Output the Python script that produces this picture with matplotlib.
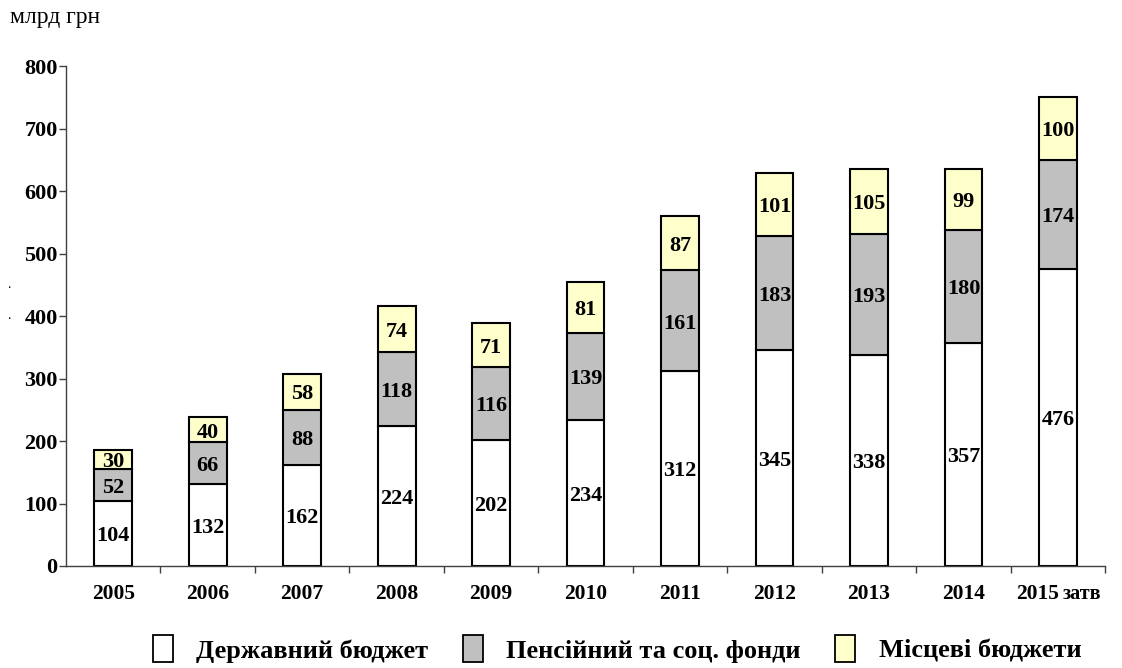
import matplotlib
matplotlib.use("Agg")
import matplotlib.pyplot as plt
from matplotlib.patches import Patch
from matplotlib.transforms import blended_transform_factory
import numpy as np

years = ["2005", "2006", "2007", "2008", "2009", "2010", "2011", "2012", "2013", "2014", "2015"]
state_budget = [104, 132, 162, 224, 202, 234, 312, 345, 338, 357, 476]
pension_social = [52, 66, 88, 118, 116, 139, 161, 183, 193, 180, 174]
local_budgets = [30, 40, 58, 74, 71, 81, 87, 101, 105, 99, 100]
series_names = ["Державний бюджет", "Пенсійний та соц. фонди", "Місцеві бюджети"]
series_colors = ["#FFFFFF", "#C0C0C0", "#FFFFCC"]

plt.rcParams["font.family"] = ["Liberation Serif", "DejaVu Serif"]

fig = plt.figure(figsize=(11.22, 6.68), dpi=100)
ax = fig.add_axes([0.0588, 0.1527, 0.9262, 0.7483])

x = np.arange(len(years))
width = 0.4
bottom = np.zeros(len(years))
for vals, color in zip([state_budget, pension_social, local_budgets], series_colors):
    ax.bar(x, vals, width, bottom=bottom, color=color, edgecolor="black", linewidth=1.5, zorder=2)
    for xi, b, v in zip(x, bottom, vals):
        ax.annotate(str(v), xy=(xi, b + v / 2), xytext=(0, -2), textcoords="offset points",
                    ha="center", va="center", fontsize=16, fontweight="bold", zorder=3)
    bottom = bottom + np.array(vals)

ax.set_xlim(-0.5, len(years) - 0.5)
ax.set_ylim(0, 800)
ax.set_yticks(np.arange(0, 801, 100))
ax.tick_params(axis="y", direction="out", length=5, width=1, color="#404040",
               labelsize=16, pad=1)
for lbl in ax.get_yticklabels():
    lbl.set_fontweight("bold")

# category labels under the bars, boundaries marked with ticks
ax.set_xticks(x)
ax.set_xticklabels(years[:-1] + [""], fontsize=15.5, fontweight="bold")
ax.tick_params(axis="x", which="major", length=0, pad=13)
ax.set_xticks(np.arange(-0.5, len(years) - 0.4, 1.0)[1:], minor=True)
ax.tick_params(axis="x", which="minor", direction="out", length=5, width=1, color="#404040")

# last category: year plus a smaller "затв" on a shared baseline
trans = blended_transform_factory(ax.transData, ax.transAxes)
ax.annotate(years[-1], xy=(x[-1], 0), xycoords=trans, xytext=(1, -23.5),
            textcoords="offset points", ha="right", va="baseline",
            fontsize=15.5, fontweight="bold", annotation_clip=False)
ax.annotate("затв", xy=(x[-1], 0), xycoords=trans, xytext=(3.5, -23.5),
            textcoords="offset points", ha="left", va="baseline",
            fontsize=14.5, fontweight="bold", annotation_clip=False)

for side in ["top", "right"]:
    ax.spines[side].set_visible(False)
for side in ["left", "bottom"]:
    ax.spines[side].set_color("#404040")
    ax.spines[side].set_linewidth(1)

fig.text(10 / 1122, 1 - 18 / 668, "млрд грн", fontsize=17, ha="left", va="center")
fig.text(7 / 1122, 1 - 284 / 668, ".", fontsize=10, ha="left", va="center")
fig.text(7 / 1122, 1 - 315 / 668, ".", fontsize=10, ha="left", va="center")

handles = [Patch(facecolor=c, edgecolor="black", linewidth=1.3) for c in series_colors]
fig.legend(handles, series_names, loc="center", bbox_to_anchor=(0.55, 1 - 649 / 668),
           ncol=3, frameon=False, prop={"size": 19, "weight": "bold"},
           handlelength=0.75, handleheight=1.15, handletextpad=0.9, columnspacing=1.3)

fig.savefig("out.png", dpi=100)
